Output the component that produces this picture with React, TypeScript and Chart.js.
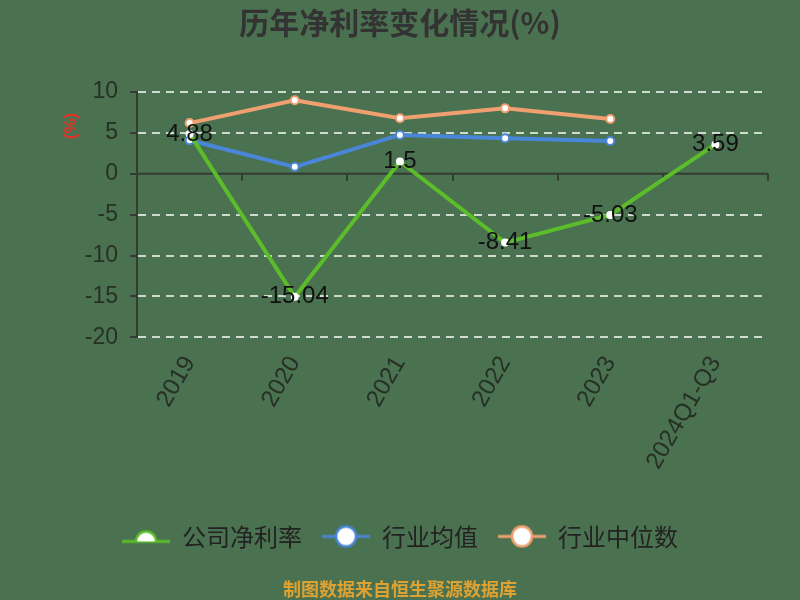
import { useEffect, useRef } from 'react';
import Chart from 'chart.js/auto';

const categories = ['2019', '2020', '2021', '2022', '2023', '2024Q1-Q3'];
const companyMargin = [4.88, -15.04, 1.5, -8.41, -5.03, 3.59];
const industryAvg = [4.1, 0.85, 4.75, 4.35, 4.0, null];
const industryMedian = [6.2, 9.0, 6.8, 8.0, 6.7, null];
const yTicks = [10, 5, 0, -5, -10, -15, -20];

const BG = '#4a7250';
const GREEN = '#5cbd2a';
const BLUE = '#4a86d8';
const ORANGE = '#f0a070';
const NUM_FONT = '"Liberation Sans", Arial, sans-serif';
const CJK_FONT = '"Noto Sans CJK SC", sans-serif';

// legend marker: short line with a white circle on it
const makeMarker = (color: string, half: boolean) => {
  const c = document.createElement('canvas');
  c.width = 48;
  c.height = 26;
  const g = c.getContext('2d')!;
  g.strokeStyle = color;
  g.lineWidth = 3;
  g.beginPath();
  g.moveTo(0, half ? 18 : 13);
  g.lineTo(48, half ? 18 : 13);
  g.stroke();
  g.fillStyle = '#ffffff';
  g.lineWidth = 2.5;
  g.beginPath();
  if (half) g.arc(24, 18, 10, Math.PI, 2 * Math.PI);
  else g.arc(24, 13, 10, 0, 2 * Math.PI);
  g.fill();
  g.stroke();
  return c;
};

const bgPlugin = {
  id: 'bg',
  beforeDraw(chart: any) {
    const { ctx, width, height } = chart;
    ctx.save();
    ctx.fillStyle = BG;
    ctx.fillRect(0, 0, width, height);
    ctx.restore();
  },
};

// solid zero line with small ticks between categories, plus the (%) unit
const zeroLinePlugin = {
  id: 'zeroLine',
  beforeDatasetsDraw(chart: any) {
    const { ctx, chartArea, scales } = chart;
    const y0 = scales.y.getPixelForValue(0);
    const step = scales.x.getPixelForValue(1) - scales.x.getPixelForValue(0);
    ctx.save();
    ctx.strokeStyle = '#333b33';
    ctx.lineWidth = 2;
    ctx.beginPath();
    ctx.moveTo(chartArea.left, y0);
    ctx.lineTo(chartArea.right, y0);
    for (let i = 1; i <= categories.length; i++) {
      const x = Math.round(scales.x.getPixelForValue(i) - step / 2);
      ctx.moveTo(x, y0);
      ctx.lineTo(x, y0 + 7);
    }
    ctx.stroke();

    ctx.translate(chartArea.left - 66, chartArea.top + 34);
    ctx.rotate(-Math.PI / 2);
    ctx.font = `bold 17px ${NUM_FONT}`;
    ctx.fillStyle = '#e03428';
    ctx.textAlign = 'center';
    ctx.textBaseline = 'middle';
    ctx.fillText('(%)', 0, 0);
    ctx.restore();
  },
};

const labelPlugin = {
  id: 'valueLabels',
  afterDatasetsDraw(chart: any) {
    const { ctx } = chart;
    const meta = chart.getDatasetMeta(0);
    ctx.save();
    ctx.font = `24px ${NUM_FONT}`;
    ctx.fillStyle = '#111111';
    ctx.textAlign = 'center';
    ctx.textBaseline = 'middle';
    meta.data.forEach((pt: any, i: number) => {
      ctx.fillText(String(companyMargin[i]), pt.x, pt.y);
    });
    ctx.restore();
  },
};

const App = () => {
  const chartRef = useRef<HTMLCanvasElement>(null);
  const chartInstance = useRef<Chart | null>(null);

  useEffect(() => {
    document.body.style.margin = '0';
    if (!chartRef.current) return;
    if (chartInstance.current) chartInstance.current.destroy();

    const markers = [makeMarker(GREEN, true), makeMarker(BLUE, false), makeMarker(ORANGE, false)];

    const lineStyle = (color: string) => ({
      borderColor: color,
      backgroundColor: color,
      borderWidth: 4,
      pointRadius: 4,
      pointBorderWidth: 2,
      pointBackgroundColor: '#ffffff',
      pointBorderColor: color,
      tension: 0,
      spanGaps: false,
    });

    chartInstance.current = new Chart(chartRef.current, {
      type: 'line',
      data: {
        labels: categories,
        datasets: [
          { label: '公司净利率', data: companyMargin, ...lineStyle(GREEN), pointBorderColor: '#ffffff', pointRadius: 3 },
          { label: '行业均值', data: industryAvg, ...lineStyle(BLUE) },
          { label: '行业中位数', data: industryMedian, ...lineStyle(ORANGE) },
        ],
      },
      options: {
        responsive: true,
        maintainAspectRatio: false,
        animation: false,
        layout: { padding: { left: 32, right: 32, top: 0, bottom: 0 } },
        plugins: {
          title: {
            display: true,
            text: '历年净利率变化情况(%)',
            color: '#333333',
            font: { family: CJK_FONT, size: 30, weight: 'bold' },
            padding: { top: 5, bottom: 51 },
          },
          subtitle: {
            display: true,
            position: 'bottom',
            text: '制图数据来自恒生聚源数据库',
            color: '#dea232',
            font: { family: CJK_FONT, size: 18, weight: 'bold' },
            padding: { top: 20, bottom: 0 },
          },
          legend: {
            position: 'bottom',
            labels: {
              color: '#222222',
              font: { family: CJK_FONT, size: 24 },
              usePointStyle: true,
              pointStyleWidth: 48,
              boxHeight: 24,
              padding: 20,
              generateLabels: (chart: any) =>
                chart.data.datasets.map((ds: any, i: number) => ({
                  text: ds.label,
                  fontColor: '#222222',
                  pointStyle: markers[i],
                  datasetIndex: i,
                  hidden: false,
                  lineWidth: 0,
                  strokeStyle: 'transparent',
                  fillStyle: 'transparent',
                })),
            },
          },
          tooltip: { enabled: false },
        },
        scales: {
          x: {
            offset: true,
            grid: { display: false },
            border: { display: false },
            afterFit: (scale: any) => {
              scale.height += 24;
            },
            ticks: {
              color: '#263026',
              font: { family: NUM_FONT, size: 24 },
              maxRotation: 60,
              minRotation: 60,
              padding: 6,
            },
          },
          y: {
            min: -20,
            max: 10,
            afterBuildTicks: (scale: any) => {
              scale.ticks = yTicks.map((v) => ({ value: v }));
            },
            afterFit: (scale: any) => {
              scale.width = 105;
            },
            border: { display: true, color: '#333b33', width: 2, dash: [8, 6] },
            grid: {
              color: (ctx: any) => (ctx.tick && ctx.tick.value === 0 ? 'rgba(0,0,0,0)' : 'rgba(230,236,230,0.85)'),
              lineWidth: 2,
              drawTicks: true,
              tickLength: 7,
              tickColor: '#333b33',
              tickBorderDash: [],
              tickWidth: 2,
            },
            ticks: {
              color: '#263026',
              font: { family: NUM_FONT, size: 23 },
              padding: 12,
            },
          },
        },
      },
      plugins: [bgPlugin, zeroLinePlugin, labelPlugin],
    } as any);

    return () => {
      if (chartInstance.current) {
        chartInstance.current.destroy();
        chartInstance.current = null;
      }
    };
  }, []);

  return (
    <div style={{ width: 800, height: 600, position: 'relative' }}>
      <canvas ref={chartRef}></canvas>
    </div>
  );
};

export default App;
